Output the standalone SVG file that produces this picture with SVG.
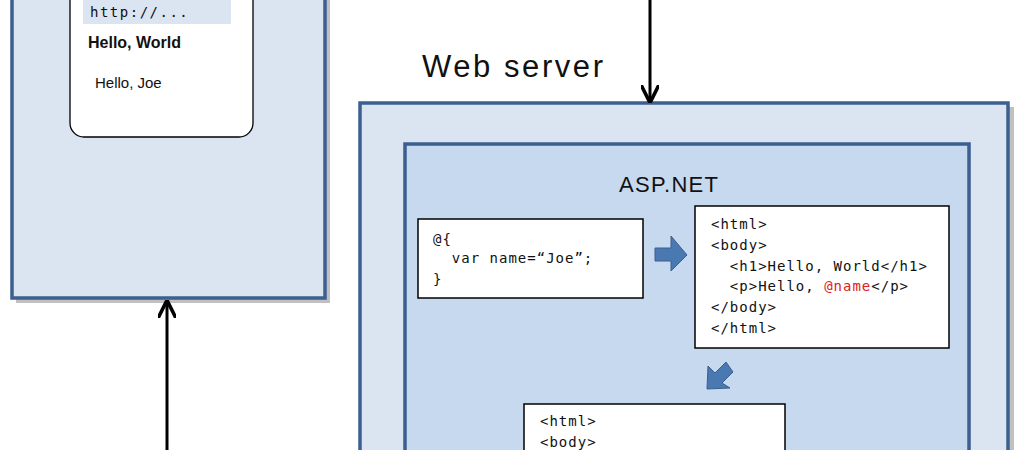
<svg xmlns="http://www.w3.org/2000/svg" width="1024" height="450" viewBox="0 0 1024 450">
<style>
.box{stroke:#3b5f8e;stroke-width:3.5}
.sh{fill:#c0c0c0}
.code{fill:#fff;stroke:#000;stroke-width:1.5}
.m{font-family:"DejaVu Sans Mono","Liberation Mono",monospace;font-size:14px;letter-spacing:1px;fill:#111}
.s{font-family:"Liberation Sans",Arial,sans-serif;fill:#111}
.blue{fill:#4a78b0;stroke:#3b5f8e;stroke-width:1}
</style>
<defs>
<marker id="ah" viewBox="0 0 10 10" refX="9" refY="5" markerWidth="6" markerHeight="6" orient="auto-start-reverse" markerUnits="strokeWidth">
<path d="M0,0 L10,5 L0,10" fill="none" stroke="#000" stroke-width="2"/>
</marker>
</defs>
<g id="browser">
<rect class="sh" x="16" y="-10" width="314" height="313"/>
<rect class="box" x="12" y="-10" width="313" height="308" fill="#dbe4f1"/>
<rect x="70" y="-20" width="183" height="157" rx="14" fill="#fff" stroke="#000" stroke-width="1.3"/>
<rect x="83" y="0" width="148" height="24" fill="#dbe4f1"/>
<text class="m" x="90" y="17" style="letter-spacing:1.5px">http://...</text>
<text class="s" x="88" y="48" font-size="16" font-weight="bold">Hello, World</text>
<text class="s" x="95" y="88" font-size="15">Hello, Joe</text>
</g>
<g id="webserver">
<text class="s" x="422" y="77" font-size="31" textLength="181">Web server</text>
<rect class="sh" x="364" y="107" width="650" height="360"/>
<rect class="box" x="360" y="103" width="648" height="360" fill="#dbe4f1"/>
</g>
<g id="aspnet">
<rect class="box" x="405" y="144" width="564" height="320" fill="#c6d9ef"/>
<text class="s" x="619" y="192" font-size="22" textLength="99">ASP.NET</text>
</g>
<g id="code1">
<rect class="code" x="418" y="219" width="225" height="79"/>
<text class="m" x="433" y="244">@{</text>
<text class="m" x="433" y="263" xml:space="preserve">  var name=“Joe”;</text>
<text class="m" x="433" y="284">}</text>
</g>
<g id="code2">
<rect class="code" x="695" y="206" width="254" height="142"/>
<text class="m" x="711" y="229">&lt;html&gt;</text>
<text class="m" x="711" y="250">&lt;body&gt;</text>
<text class="m" x="711" y="271" xml:space="preserve">  &lt;h1&gt;Hello, World&lt;/h1&gt;</text>
<text class="m" x="711" y="291" xml:space="preserve">  &lt;p&gt;Hello, <tspan fill="#e02020">@name</tspan>&lt;/p&gt;</text>
<text class="m" x="711" y="312">&lt;/body&gt;</text>
<text class="m" x="711" y="333">&lt;/html&gt;</text>
</g>
<g id="code3">
<rect class="code" x="524" y="404" width="261" height="60"/>
<text class="m" x="540" y="426">&lt;html&gt;</text>
<text class="m" x="540" y="447">&lt;body&gt;</text>
</g>
<g id="connectors">
<line x1="650" y1="0" x2="650" y2="101" stroke="#000" stroke-width="3" marker-end="url(#ah)"/>
<line x1="167" y1="450" x2="167" y2="302" stroke="#000" stroke-width="3" marker-end="url(#ah)"/>
<path class="blue" d="M655,248 L671,248 L671,236 L687,255 L671,271 L671,261 L655,261 Z"/>
<path class="blue" d="M733,372 L722,383 L730,388 L707,389 L708,366 L715,373 L726,362 Z"/>
</g>
</svg>
